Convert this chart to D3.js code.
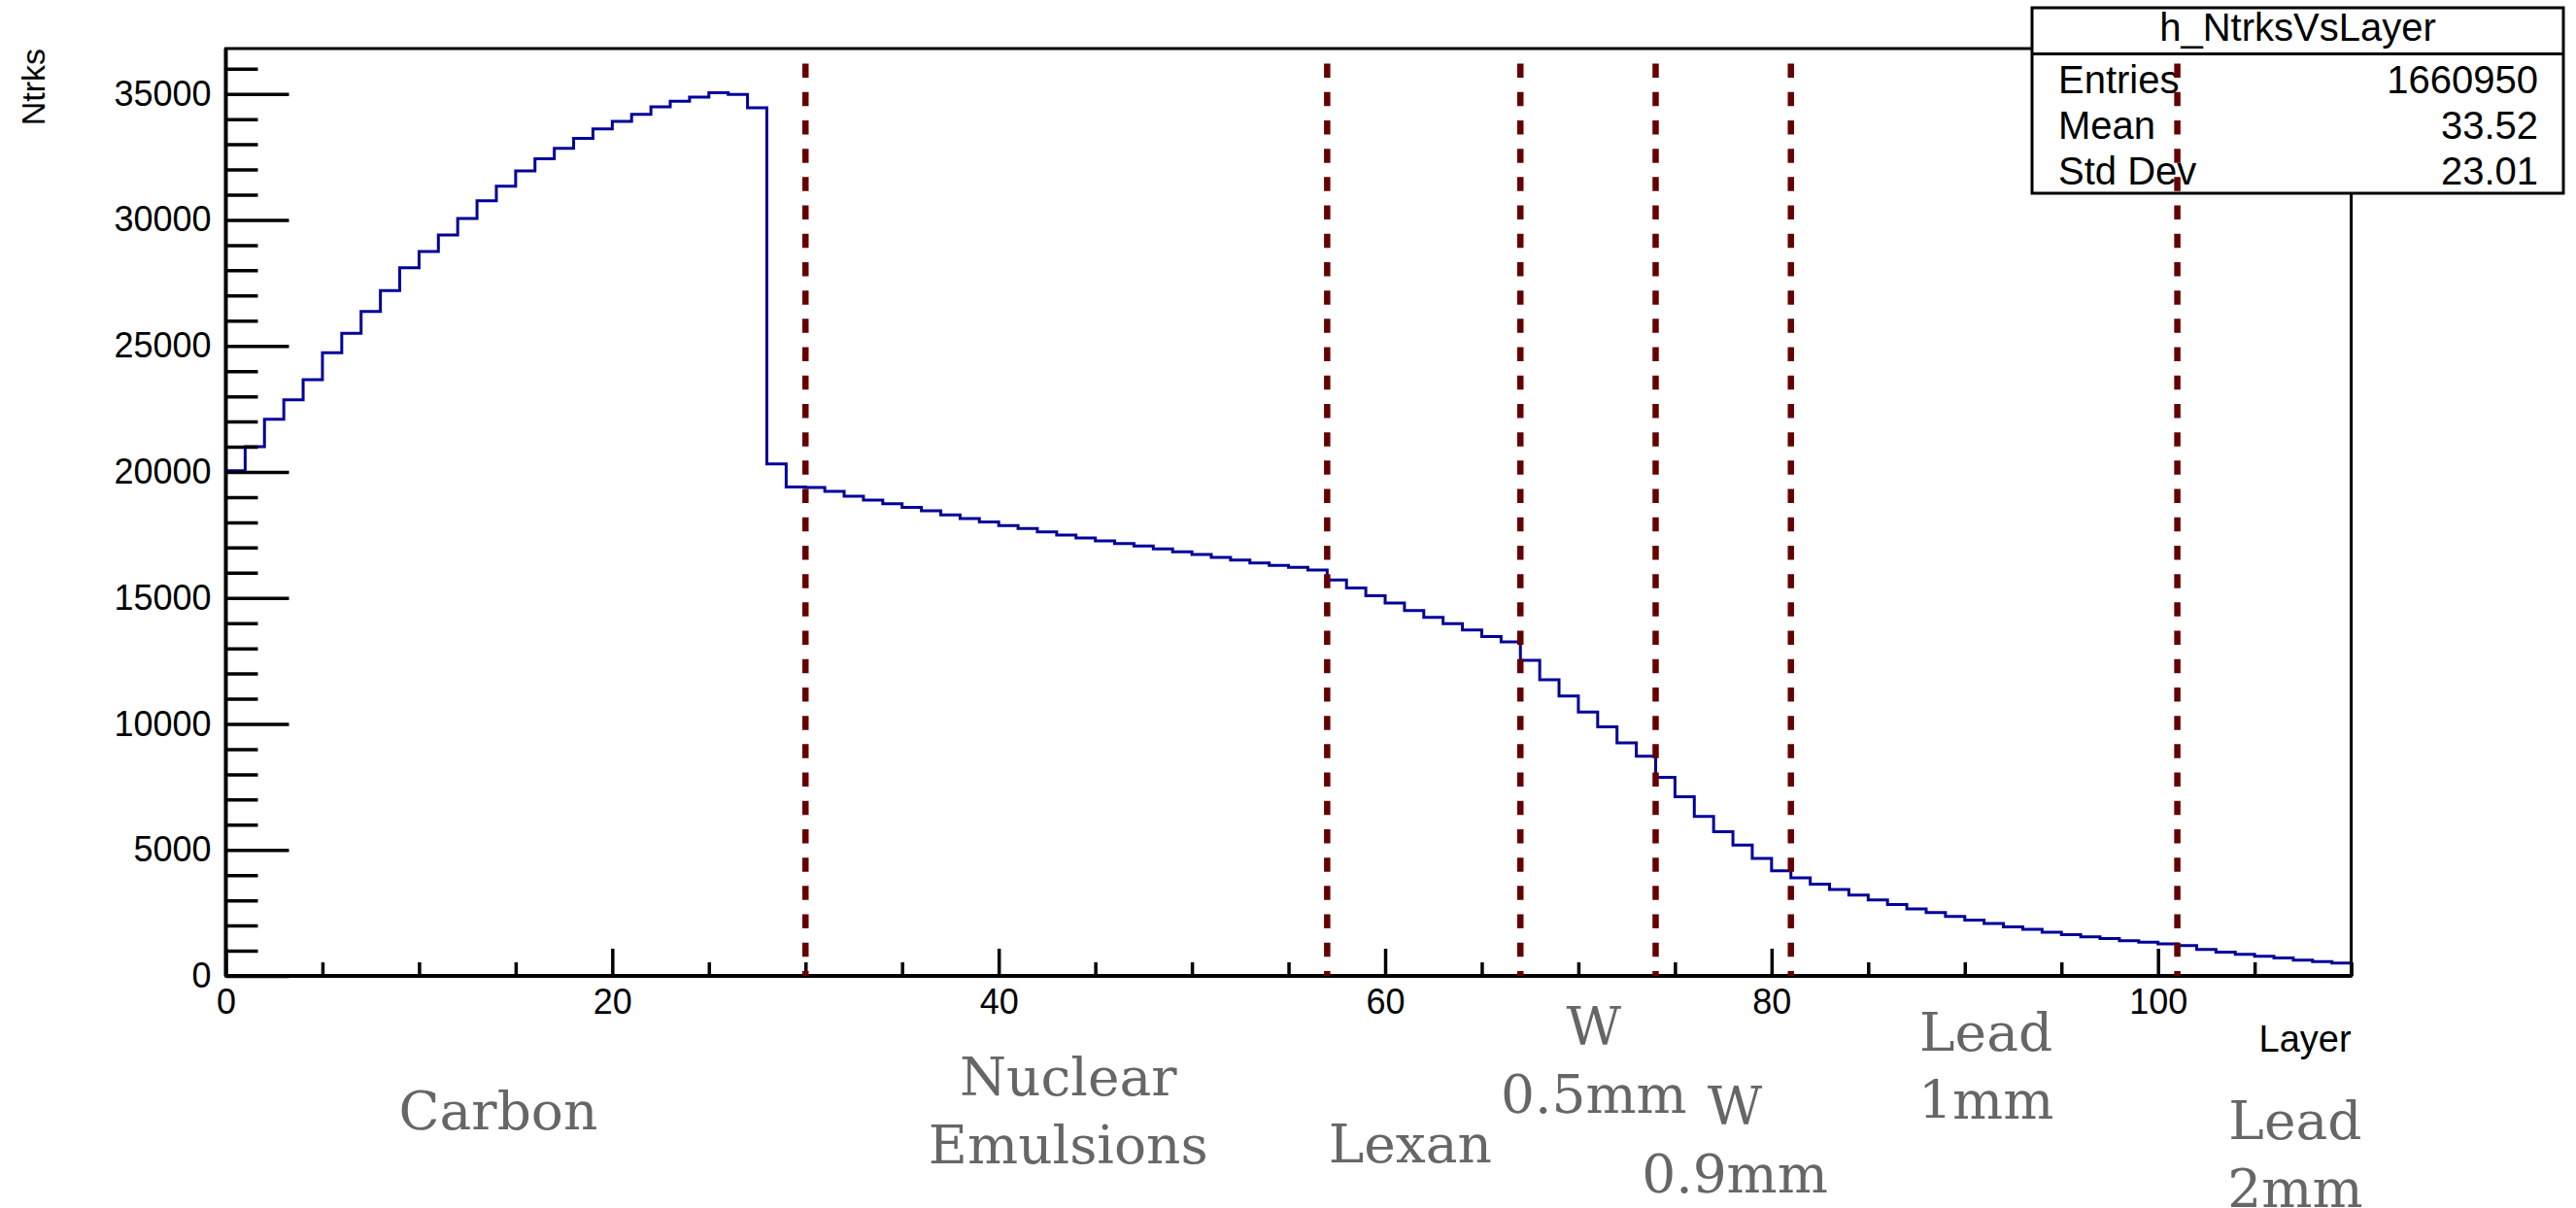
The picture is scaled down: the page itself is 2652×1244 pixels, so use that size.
<!DOCTYPE html>
<html>
<head>
<meta charset="utf-8">
<script src="https://cdn.jsdelivr.net/npm/d3@7"></script>
<style>
  body { margin: 0; background: #fff; }
  svg { display: block; }
</style>
</head>
<body>
<svg id="chart"></svg>
<script>
// histogram contents, one value per layer bin [i, i+1)
const ntrks = [
  20050, 21000, 22090, 22860, 23660, 24730, 25500, 26370, 27200, 28100,
  28750, 29400, 30060, 30760, 31340, 31940, 32430, 32840, 33240, 33610,
  33910, 34190, 34490, 34710, 34870, 35050, 34980, 34450, 20320, 19400,
  19380, 19230, 19040, 18880, 18740, 18590, 18460, 18290, 18150, 18010,
  17870, 17750, 17620, 17490, 17380, 17260, 17160, 17060, 16950, 16830,
  16720, 16610, 16500, 16390, 16290, 16210, 16110, 15710, 15390, 15090,
  14800, 14500, 14230, 13980, 13730, 13470, 13260, 12520, 11750, 11110,
  10470, 9880, 9250, 8720, 7880, 7110, 6330, 5720, 5190, 4660,
  4170, 3890, 3640, 3430, 3210, 3020, 2830, 2660, 2510, 2360,
  2220, 2080, 1950, 1850, 1730, 1640, 1550, 1480, 1400, 1340,
  1270, 1200, 1050, 940, 860, 780, 710, 630, 570, 510
];
const layerMin = 0, layerMax = 110;
const yMaxVal = 36800;

const boundaries = [30, 57, 67, 74, 81, 101];
const boundaryTop = 36200;

const materials = [["Carbon"], ["Nuclear", "Emulsions"], ["Lexan"], ["W", "0.5mm"], ["W", "0.9mm"], ["Lead", "1mm"], ["Lead", "2mm"]];
const materialX = [14.1, 43.6, 61.3, 70.8, 78.1, 91.1, 107.1];
const materialBaseline = [1163, 1128, 1197, 1076, 1158, 1082, 1173];

const xTicks = [0, 20, 40, 60, 80, 100];
const xMinor = d3.range(0, 111, 5).filter(d => d % 20 !== 0);
const yTicks = [0, 5000, 10000, 15000, 20000, 25000, 30000, 35000];
const yMinor = d3.range(0, 36001, 1000).filter(d => d % 5000 !== 0);

const statsTitle = "h_NtrksVsLayer";
const statsLabels = ["Entries", "Mean", "Std Dev"];
const statsValues = ["1660950", "33.52", "23.01"];

const W = 2652, H = 1244;
const frame = { left: 232.5, right: 2420.6, top: 50, bottom: 1005 };
const sans = "'Liberation Sans', Arial, Helvetica, sans-serif";

const svg = d3.select('#chart')
  .attr('width', W)
  .attr('height', H);

svg.append('rect').attr('width', W).attr('height', H).attr('fill', '#fff');

const x = d3.scaleLinear().domain([layerMin, layerMax]).range([frame.left, frame.right]);
const y = d3.scaleLinear().domain([0, yMaxVal]).range([frame.bottom, frame.top]);

// histogram outline
const pts = ntrks.map((v, i) => [i, v]);
pts.push([layerMax, ntrks[ntrks.length - 1]]);
const line = d3.line()
  .x(d => x(d[0]))
  .y(d => y(d[1]))
  .curve(d3.curveStepAfter);

svg.append('path')
  .datum(pts)
  .attr('d', line)
  .attr('fill', 'none')
  .attr('stroke', '#000099')
  .attr('stroke-width', 3);

// frame
svg.append('rect')
  .attr('x', frame.left).attr('y', frame.top)
  .attr('width', frame.right - frame.left).attr('height', frame.bottom - frame.top)
  .attr('fill', 'none')
  .attr('stroke', '#000')
  .attr('stroke-width', 3);

// axes
const styleAxis = (g, fs) => {
  g.select('.domain').remove();
  g.selectAll('.tick line').attr('stroke', '#000').attr('stroke-width', 3.5);
  g.selectAll('.tick text')
    .attr('fill', '#000')
    .style('font-family', sans)
    .style('font-size', fs + 'px');
};

svg.append('g')
  .attr('transform', `translate(${frame.left},0)`)
  .call(d3.axisLeft(y).tickValues(yMinor).tickSize(-33).tickFormat(''))
  .call(g => styleAxis(g, 36));

svg.append('g')
  .attr('transform', `translate(${frame.left},0)`)
  .call(d3.axisLeft(y).tickValues(yTicks).tickSize(-65).tickPadding(15).tickFormat(d3.format('d')))
  .call(g => styleAxis(g, 36));

svg.append('g')
  .attr('transform', `translate(0,${frame.bottom})`)
  .call(d3.axisBottom(x).tickValues(xMinor).tickSize(-14).tickFormat(''))
  .call(g => styleAxis(g, 36));

svg.append('g')
  .attr('transform', `translate(0,${frame.bottom})`)
  .call(d3.axisBottom(x).tickValues(xTicks).tickSize(-28).tickPadding(13).tickFormat(d3.format('d')))
  .call(g => styleAxis(g, 36));

// thicker axis lines
svg.append('line')
  .attr('x1', frame.left).attr('x2', frame.right).attr('y1', frame.bottom).attr('y2', frame.bottom)
  .attr('stroke', '#000').attr('stroke-width', 4);
svg.append('line')
  .attr('x1', frame.left).attr('x2', frame.left).attr('y1', frame.top).attr('y2', frame.bottom)
  .attr('stroke', '#000').attr('stroke-width', 4);

// axis titles
svg.append('text')
  .attr('transform', `translate(46,${frame.top}) rotate(-90)`)
  .attr('text-anchor', 'end')
  .style('font-family', sans)
  .style('font-size', '34px')
  .text('Ntrks');

svg.append('text')
  .attr('x', frame.right)
  .attr('y', 1083)
  .attr('text-anchor', 'end')
  .style('font-family', sans)
  .style('font-size', '38px')
  .text('Layer');

// stats box
const box = svg.append('g');
box.append('rect')
  .attr('x', 2092).attr('y', 8)
  .attr('width', 2639 - 2092).attr('height', 199 - 8)
  .attr('fill', '#fff')
  .attr('stroke', '#000')
  .attr('stroke-width', 3);
box.append('line')
  .attr('x1', 2092).attr('x2', 2639).attr('y1', 55.5).attr('y2', 55.5)
  .attr('stroke', '#000').attr('stroke-width', 3);
box.append('text')
  .attr('x', (2092 + 2639) / 2).attr('y', 42)
  .attr('text-anchor', 'middle')
  .style('font-family', sans).style('font-size', '40px')
  .text(statsTitle);
statsLabels.forEach((lab, i) => {
  const by = 96 + i * 47;
  box.append('text')
    .attr('x', 2119).attr('y', by)
    .style('font-family', sans).style('font-size', '40px')
    .text(lab);
  box.append('text')
    .attr('x', 2613).attr('y', by)
    .attr('text-anchor', 'end')
    .style('font-family', sans).style('font-size', '40px')
    .text(statsValues[i]);
});

// material boundaries
svg.selectAll('line.boundary')
  .data(boundaries)
  .enter()
  .append('line')
  .attr('class', 'boundary')
  .attr('x1', d => x(d)).attr('x2', d => x(d))
  .attr('y1', y(boundaryTop)).attr('y2', y(0))
  .attr('stroke', '#660000')
  .attr('stroke-width', 6.5)
  .attr('stroke-dasharray', '14.5,14.7');

// material names
materials.forEach((lines, i) => {
  const t = svg.append('text')
    .attr('text-anchor', 'middle')
    .attr('fill', '#666')
    .style('font-family', "'DejaVu Serif', serif")
    .style('font-size', '55px');
  lines.forEach((s, j) => {
    t.append('tspan')
      .attr('x', x(materialX[i]))
      .attr('y', materialBaseline[i] + j * 70)
      .text(s);
  });
});
</script>
</body>
</html>
